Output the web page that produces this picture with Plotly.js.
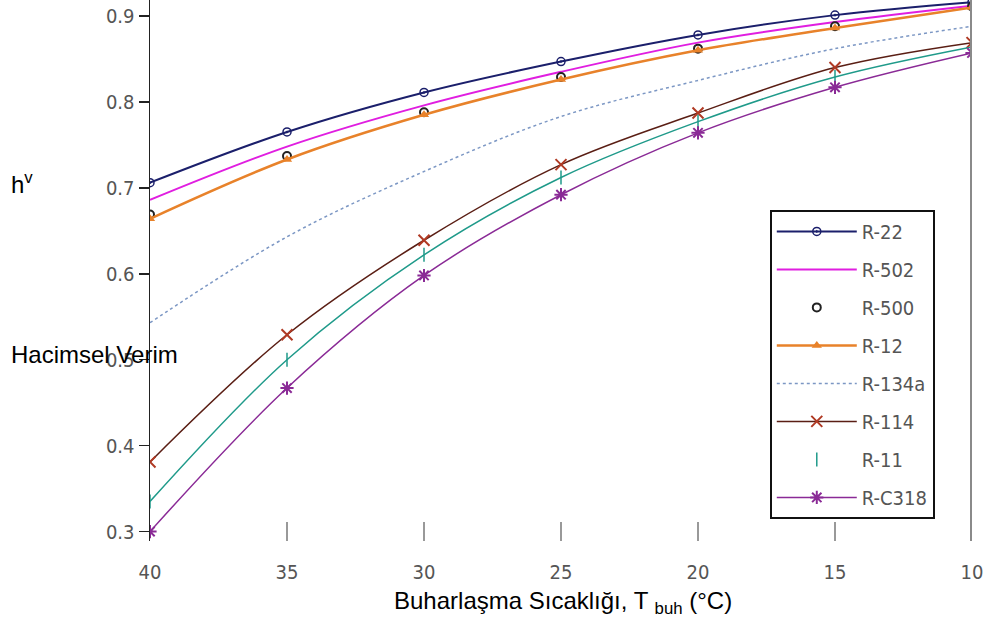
<!DOCTYPE html>
<html><head><meta charset="utf-8">
<script src="https://cdn.plot.ly/plotly-3.0.1.min.js"></script>
<style>html,body{margin:0;padding:0;background:#fff;}#chart{width:993px;height:620px;}</style>
</head><body><div id="chart"></div>
<script>
const temps = [40, 35, 30, 25, 20, 15, 10];
const r22   = [0.706, 0.765, 0.811, 0.847, 0.878, 0.901, 0.916];
const r502  = [0.686, 0.748, 0.796, 0.835, 0.869, 0.893, 0.912];
const r500  = [0.669, 0.737, 0.788, 0.829, 0.862, 0.888, 0.911];
const r12   = [0.664, 0.733, 0.785, 0.826, 0.860, 0.886, 0.910];
const r134a = [0.543, 0.643, 0.719, 0.783, 0.825, 0.862, 0.888];
const r114  = [0.381, 0.529, 0.639, 0.727, 0.787, 0.840, 0.869];
const r11   = [0.335, 0.500, 0.622, 0.712, 0.777, 0.829, 0.864];
const rc318 = [0.300, 0.467, 0.598, 0.692, 0.764, 0.817, 0.857];
const names = ['R-22','R-502','R-500','R-12','R-134a','R-114','R-11','R-C318'];
const yTicks = [0.3,0.4,0.5,0.6,0.7,0.8,0.9];

const traces = [
  {x: temps, y: r22, name: names[0], legendgroup:'g1', mode:'lines+markers', line:{color:'#1b1f6b', width:2, shape:'spline'},
   marker:{symbol:'circle-open-dot', size:8, color:'#1b1f6b', line:{width:1.5}}},
  {x: temps, y: r502, name: names[1], legendgroup:'g2', mode:'lines', line:{color:'#e01ee0', width:2, shape:'spline'}},
  {x: temps, y: r500, name: names[2], legendgroup:'g3', mode:'markers',
   marker:{symbol:'circle-open', size:8, color:'#222', line:{width:2}}},
  {x: temps, y: r12, name: names[3], legendgroup:'g4', mode:'lines+markers', line:{color:'#e8822a', width:2.5, shape:'spline'},
   marker:{symbol:'triangle-up', size:9, color:'#e8822a'}},
  {x: temps, y: r134a, name: names[4], legendgroup:'g5', mode:'lines', line:{color:'#7c97c4', width:1.5, dash:'dot', shape:'spline'}},
  {x: temps, y: r114, name: names[5], legendgroup:'g6', mode:'lines+markers', line:{color:'#5a1e14', width:1.5, shape:'spline'},
   marker:{symbol:'x-thin-open', size:11, color:'#b03a24', line:{width:2, color:'#b03a24'}}},
  {x: temps, y: r11, name: names[6], legendgroup:'g7', mode:'lines', showlegend:false, line:{color:'#1f9a8a', width:1.5, shape:'spline'}},
  {x: temps, y: r11, name: names[6], legendgroup:'g7', mode:'markers',
   marker:{symbol:'line-ns-open', size:10, color:'#1f9a8a', line:{width:1.5, color:'#1f9a8a'}}},
  {x: temps, y: rc318, name: names[7], legendgroup:'g8', mode:'lines+markers', line:{color:'#8a2a96', width:1.5, shape:'spline'},
   marker:{symbol:'asterisk-open', size:11, color:'#8a2a96', line:{width:2, color:'#8a2a96'}}}
];

const tickFont = {family:'DejaVu Sans Condensed, DejaVu Sans', size:20, color:'#555'};
const yRange = [0.289, 0.9186];

const layout = {
  width: 993, height: 620,
  margin: {l:150, r:21, t:0, b:79},
  paper_bgcolor:'#fff', plot_bgcolor:'#fff',
  showlegend: true,
  xaxis: {
    range: [40, 10], tickvals: temps, ticktext: temps.map(String),
    showgrid:false, zeroline:false, showline:false,
    ticks:'inside', ticklen:19, tickwidth:2, tickcolor:'#999',
    ticklabelstandoff: 17, tickfont: tickFont
  },
  yaxis: {
    range: yRange, tickvals: yTicks, ticktext: yTicks.map(v => v.toFixed(1)),
    showgrid:false, zeroline:false, showline:true, linecolor:'#222', linewidth:1.5,
    ticks:'outside', ticklen:10, tickwidth:1.5, tickcolor:'#222', tickfont: tickFont
  },
  yaxis2: {
    overlaying:'y', side:'left', anchor:'x', range: yRange, tickvals: yTicks,
    showgrid:false, zeroline:false, showline:false, showticklabels:false,
    ticks:'inside', ticklen:10, tickwidth:1.5, tickcolor:'#222'
  },
  shapes: [
    {type:'line', xref:'x', yref:'paper', x0:10, x1:10, y0:0, y1:1, line:{color:'#8a8a8a', width:4}}
  ],
  legend: {
    x: 0.754, y: 0.612, xanchor:'left', yanchor:'top',
    bgcolor:'#fff', bordercolor:'#111', borderwidth:2,
    font:{family:'DejaVu Sans Condensed, DejaVu Sans', size:20, color:'#555'},
    itemwidth: 80, tracegroupgap: 9, traceorder:'grouped'
  },
  annotations: [
    {text:'h<sup>v</sup>', xref:'paper', yref:'paper', x:-0.171, y:0.662, xanchor:'left', yanchor:'middle',
     showarrow:false, font:{family:'Liberation Sans', size:24, color:'#000'}},
    {text:'Hacimsel Verim', xref:'paper', yref:'paper', x:-0.171, y:0.344, xanchor:'left', yanchor:'middle',
     showarrow:false, font:{family:'Liberation Sans', size:24, color:'#000'}},
    {text:'Buharlaşma Sıcaklığı, T <sub>buh</sub> (°C)', xref:'paper', yref:'paper', x:0.503, y:-0.114,
     xanchor:'center', yanchor:'middle', showarrow:false, font:{family:'Liberation Sans', size:24, color:'#000'}}
  ]
};

Plotly.newPlot('chart', traces, layout, {displayModeBar:false, staticPlot:true});
</script></body></html>
